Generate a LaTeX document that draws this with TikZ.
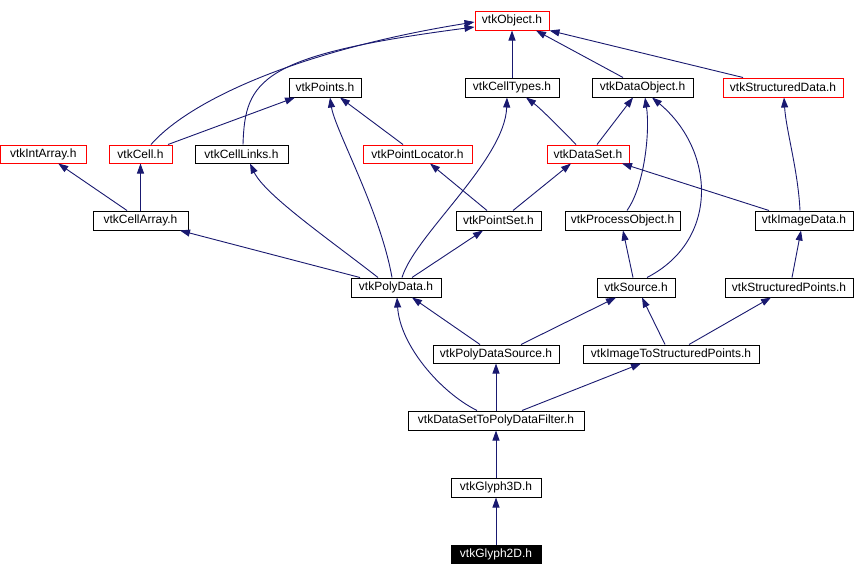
\documentclass[tikz,border=0pt]{standalone}
\usepackage{fontspec}
\setmainfont{Liberation Sans}
\usetikzlibrary{arrows.meta}
\definecolor{edgec}{HTML}{191970}
\definecolor{boxred}{HTML}{FF0000}
\begin{document}
\begin{tikzpicture}[x=1pt,y=-1pt,
  box/.style={draw=black, line width=1pt, inner sep=0pt, font=\fontsize{12}{14}\selectfont},
  redbox/.style={box, draw=boxred},
  darkbox/.style={box, fill=black, text=white},
  edge/.style={draw=edgec, line width=0.9pt, -{Triangle[length=10pt,width=7pt]}}]
\useasboundingbox[fill=white] (0,0) rectangle (856,576);
% nodes
\node[redbox, minimum width=74pt, minimum height=19pt] (obj) at (512,20.5) {vtkObject.h};
\node[box, minimum width=72pt, minimum height=19pt] (points) at (325,87.5) {vtkPoints.h};
\node[box, minimum width=94pt, minimum height=19pt] (celltypes) at (512,87.5) {vtkCellTypes.h};
\node[box, minimum width=101pt, minimum height=19pt] (dataobj) at (642.5,87.5) {vtkDataObject.h};
\node[redbox, minimum width=120pt, minimum height=19pt] (structdata) at (783,87.5) {vtkStructuredData.h};
\node[redbox, minimum width=85.5pt, minimum height=18pt] (intarray) at (43.25,154) {vtkIntArray.h};
\node[redbox, minimum width=63pt, minimum height=18pt] (cell) at (140.5,154) {vtkCell.h};
\node[box, minimum width=93pt, minimum height=18pt] (celllinks) at (241.5,154) {vtkCellLinks.h};
\node[redbox, minimum width=109pt, minimum height=18pt] (pointloc) at (417.5,154) {vtkPointLocator.h};
\node[redbox, minimum width=82pt, minimum height=18pt] (dataset) at (588,154) {vtkDataSet.h};
\node[box, minimum width=95pt, minimum height=19pt] (cellarray) at (140.5,220.5) {vtkCellArray.h};
\node[box, minimum width=85pt, minimum height=19pt] (pointset) at (498.5,220.5) {vtkPointSet.h};
\node[box, minimum width=115pt, minimum height=19pt] (procobj) at (622.5,220.5) {vtkProcessObject.h};
\node[box, minimum width=98pt, minimum height=19pt] (imagedata) at (804,220.5) {vtkImageData.h};
\node[box, minimum width=90pt, minimum height=19pt] (polydata) at (396,287.5) {vtkPolyData.h};
\node[box, minimum width=78pt, minimum height=19pt] (source) at (636,287.5) {vtkSource.h};
\node[box, minimum width=128pt, minimum height=19pt] (structpoints) at (789,287.5) {vtkStructuredPoints.h};
\node[box, minimum width=126pt, minimum height=18pt] (pdsource) at (496,354) {vtkPolyDataSource.h};
\node[box, minimum width=176pt, minimum height=18pt] (imgtosp) at (671,354) {vtkImageToStructuredPoints.h};
\node[box, minimum width=176pt, minimum height=19pt] (dstopdf) at (496,420.5) {vtkDataSetToPolyDataFilter.h};
\node[box, minimum width=90pt, minimum height=19pt] (glyph3d) at (496,487.5) {vtkGlyph3D.h};
\node[darkbox, minimum width=90pt, minimum height=18pt] (glyph2d) at (496,554) {vtkGlyph2D.h};
% edges
\draw[edge] (glyph2d.north) -- (glyph3d.south);
\draw[edge] (glyph3d.north) -- (dstopdf.south);
\draw[edge] (dstopdf.north) -- (pdsource.south);
\draw[edge] ([xshift=-19pt]dstopdf.north) .. controls (440,392) and (400,345) .. ([xshift=1pt]polydata.south);
\draw[edge] ([xshift=26pt]dstopdf.north) -- ([xshift=-30pt]imgtosp.south);
\draw[edge] ([xshift=-16pt]pdsource.north) -- ([xshift=16pt]polydata.south);
\draw[edge] ([xshift=25pt]pdsource.north) -- ([xshift=-20pt]source.south);
\draw[edge] ([xshift=-6pt]imgtosp.north) -- ([xshift=6pt]source.south);
\draw[edge] ([xshift=18pt]imgtosp.north) -- ([xshift=-18pt]structpoints.south);
\draw[edge] ([xshift=-3pt]source.north) -- ([xshift=0.5pt]procobj.south);
\draw[edge] ([xshift=11pt]source.north) .. controls (720,240) and (715,150) .. ([xshift=9.5pt]dataobj.south);
\draw[edge] ([xshift=4.5pt]procobj.north) .. controls (645,185) and (650,130) .. ([xshift=2.5pt]dataobj.south);
\draw[edge] ([xshift=3pt]structpoints.north) -- ([xshift=-3pt]imagedata.south);
\draw[edge] ([xshift=-4pt]imagedata.north) .. controls (798,170) and (786,130) .. ([xshift=1pt]structdata.south);
\draw[edge] ([xshift=-35pt]imagedata.north) -- ([xshift=34pt]dataset.south);
\draw[edge] ([xshift=14.5pt]pointset.north) -- ([xshift=-17pt]dataset.south);
\draw[edge] ([xshift=-11.5pt]pointset.north) -- ([xshift=12.5pt]pointloc.south);
\draw[edge] ([xshift=16pt]polydata.north) -- ([xshift=-15.5pt]pointset.south);
\draw[edge] ([xshift=6pt]polydata.north) .. controls (415,235) and (505,160) .. ([xshift=-5pt]celltypes.south);
\draw[edge] ([xshift=-4pt]polydata.north) .. controls (380,210) and (335,130) .. ([xshift=5pt]points.south);
\draw[edge] ([xshift=-18pt]polydata.north) .. controls (330,240) and (265,195) .. ([xshift=8.5pt]celllinks.south);
\draw[edge] ([xshift=-36pt]polydata.north) -- ([xshift=39.5pt]cellarray.south);
\draw[edge] ([xshift=-13.5pt]cellarray.north) -- ([xshift=15pt]intarray.south);
\draw[edge] (cellarray.north) -- (cell.south);
\draw[edge] ([xshift=-14.5pt]pointloc.north) -- ([xshift=15pt]points.south);
\draw[edge] ([xshift=27.5pt]cell.north) -- ([xshift=-30pt]points.south);
\draw[edge] ([xshift=10.5pt]cell.north) .. controls (190,100) and (300,50) .. ([yshift=-1.5pt]obj.west);
\draw[edge] ([xshift=1.5pt]celllinks.north) .. controls (245,80) and (260,55) .. ([yshift=-6.5pt]obj.west);
\draw[edge] (celltypes.north) -- (obj.south);
\draw[edge] ([xshift=-19.5pt]dataobj.north) -- ([xshift=24pt]obj.south);
\draw[edge] ([xshift=-40pt]structdata.north) -- (obj.south east);
\draw[edge] ([xshift=-12pt]dataset.north) .. controls (560,128) and (540,108) .. ([xshift=14pt]celltypes.south);
\draw[edge] ([xshift=9pt]dataset.north) -- ([xshift=-9.5pt]dataobj.south);
\end{tikzpicture}
\end{document}
